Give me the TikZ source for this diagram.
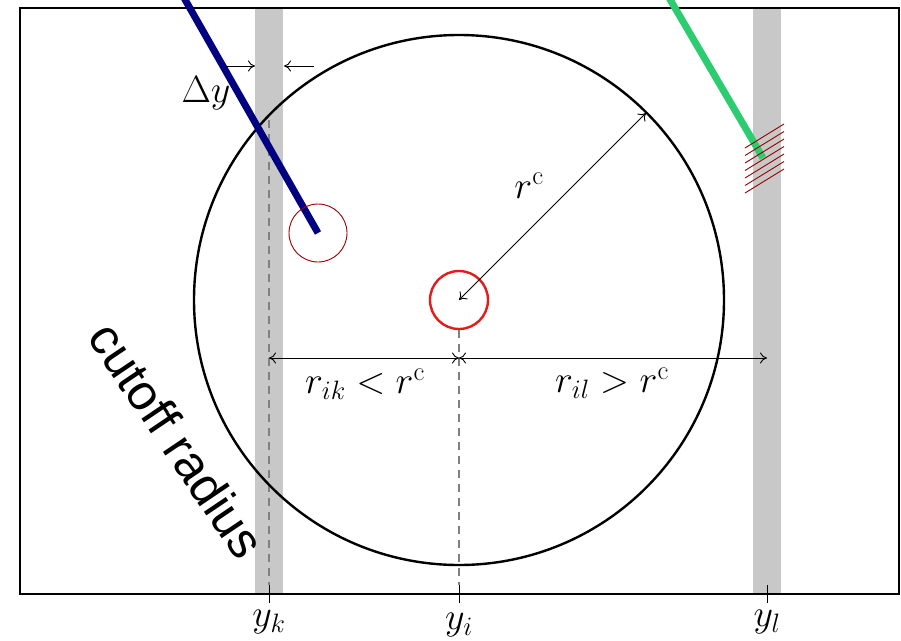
\RequirePackage{fix-cm}
\documentclass[tikz,border=0pt]{standalone}
\usepackage{fontspec}
\newfontfamily\cutofffont{Liberation Sans}
\usepackage{tikz}
\usetikzlibrary{arrows.meta}
\definecolor{bandGray}{HTML}{C8C8C8}
\definecolor{chainBlue}{HTML}{000080}
\definecolor{chainGreen}{HTML}{2ECC71}
\definecolor{hatchRed}{HTML}{990000}
\definecolor{siteRed}{HTML}{E31B1B}

\begin{document}
\begin{tikzpicture}[x=1pt,y=-1pt,
    guide/.style={draw=gray,dash pattern=on 8pt off 6pt,line width=1.2pt},
    dimline/.style={line width=0.9pt,{To[length=7pt,width=11pt]}-{To[length=7pt,width=11pt]}},
    mathlbl/.style={font=\fontsize{38}{44}\selectfont,inner sep=0pt}]
  \useasboundingbox (0,0) rectangle (901,640);
  % grid slabs
  \fill[bandGray] (255,8) rectangle (283,594);
  \fill[bandGray] (753,8) rectangle (781,594);
  \draw[line width=1.5pt] (20,8) rectangle (899,594);
  % named points
  \coordinate (ci) at (459,300);
  \coordinate (rim) at (646,113);
  \coordinate (ck) at (269,358);
  \coordinate (cm) at (459,358);
  \coordinate (cl) at (767,358);
  \coordinate (tk) at (269,585);
  \coordinate (ti) at (459,585);
  \coordinate (tl) at (767,585);
  \coordinate (bk) at (269,603);
  \coordinate (bi) at (459,603);
  \coordinate (bl) at (767,603);
  % guides
  \draw[guide] (269,120) -- (tk);
  \draw[guide] (459,330) -- (ti);
  % cutoff sphere
  \draw[line width=2.4pt] (ci) circle (265);
  % chains
  \draw[chainBlue,line width=7pt] (183,-4) -- (318,233);
  \draw[hatchRed,line width=0.9pt] (318,233) circle (29);
  \draw[siteRed,line width=2.4pt] (ci) circle (29);
  \draw[chainGreen,line width=7pt] (668,-4) -- (763,158);
  \foreach \h in {0,...,6}
    \draw[hatchRed,line width=0.9pt] (745,{148+7.5*\h}) -- (784,{124+7.5*\h});
  % distances
  \draw[dimline] (ci) -- (rim);
  \draw[dimline] (ck) -- (cm);
  \draw[dimline] (cm) -- (cl);
  \draw[line width=0.9pt,-{To[length=7pt,width=11pt]}] (226,66) -- (255,66);
  \draw[line width=0.9pt,-{To[length=7pt,width=11pt]}] (314,66) -- (284,66);
  % ticks
  \draw[line width=1pt] (tk) -- (bk);
  \draw[line width=1pt] (ti) -- (bi);
  \draw[line width=1pt] (tl) -- (bl);
  \node[mathlbl,anchor=north] (lk) at (269,610) {$y_k$};
  \node[mathlbl,anchor=north] (li) at (459,613) {$y_i$};
  \node[mathlbl,anchor=north] (ll) at (767,610) {$y_l$};
  % labels
  \node[mathlbl] (dy) at (206,93) {$\Delta y$};
  \node[mathlbl] (rc) at (529,186) {$r^{\mathrm{c}}$};
  \node[mathlbl] (rik) at (365,384) {$r_{ik} < r^{\mathrm{c}}$};
  \node[mathlbl] (ril) at (612,383) {$r_{il} > r^{\mathrm{c}}$};
  \node[font=\cutofffont\fontsize{50}{60}\selectfont,rotate=-56] (cut) at (177,440) {cutoff radius};
\end{tikzpicture}
\end{document}
